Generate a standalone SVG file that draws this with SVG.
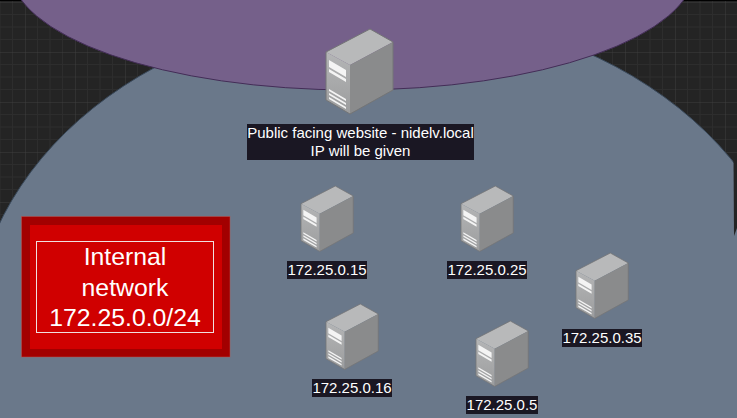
<svg xmlns="http://www.w3.org/2000/svg" width="737" height="418" viewBox="0 0 737 418">
<style>
text{font-family:"Liberation Sans",Arial,sans-serif;fill:#fff;text-anchor:middle}
.lbl{font-size:15px}
.big{font-size:24.800px}
.lb{fill:#1a1723}
.t{fill:#b8b9ba}.s{fill:#8a8b8c}.f{fill:url(#fr)}.e{fill:none;stroke:#747576;stroke-width:1;stroke-linejoin:round}.w{fill:#f4f4f4}
</style>
<defs>
<linearGradient id="fr" x1="0" y1="0" x2="0" y2="1"><stop offset="0" stop-color="#b4b5b6"/><stop offset="1" stop-color="#9c9d9e"/></linearGradient>
<pattern id="g" width="50" height="50" patternUnits="userSpaceOnUse" x="25" y="2">
<path d="M12.500 0V50M25 0V50M37.500 0V50M0 12.500H50M0 25H50M0 37.500H50" stroke="#2d2d2d" fill="none"/>
<path d="M0 0V50M0 0H50" stroke="#3e3e3e" fill="none"/>
</pattern>
<g id="srv">
<path class="t" d="M0 23 L44 0 L67 13 L24 36Z"/>
<path class="f" d="M0 23 L24 36 V85 L0 71Z"/>
<path class="s" d="M24 36 L67 13 V61 L24 85Z"/>
<path class="w" d="M3 31 L20 41 V48 L3 38Z M3 40 L20 50 V53 L3 43Z M3 60 L20 70 V72 L3 62Z M3 64 L20 74 V76 L3 66Z M3 68 L20 78 V80 L3 70Z"/>
<path class="e" d="M0 23 L44 0 L67 13 V61 L24 85 L0 71Z"/>
</g>
</defs>
<rect width="737" height="418" fill="#242424"/>
<rect width="737" height="418" fill="url(#g)"/>
<rect width="737" height="1" fill="#000"/>
<ellipse cx="386" cy="342" rx="414" ry="331" fill="#6a788a" stroke="#3a4a5c"/>
<path d="M733.500 157L737 160V228L734 236Z" fill="#242424"/>
<ellipse cx="352.500" cy="-30" rx="342" ry="120" fill="#75608a" stroke="#432d57"/>
<g id="connectors"/>
<g id="website">
<use href="#srv" transform="translate(326 29)"/>
<rect class="lb" x="247" y="124" width="227" height="36"/>
<text class="lbl" x="360.500" y="138">Public facing website - nidelv.local</text>
<text class="lbl" x="360.500" y="156">IP will be given</text>
</g>
<g id="host15">
<use href="#srv" transform="translate(301 186) scale(.78 .77)"/>
<rect class="lb" x="287" y="261" width="80" height="18"/>
<text class="lbl" x="327" y="275">172.25.0.15</text>
</g>
<g id="host25">
<use href="#srv" transform="translate(461 186) scale(.78 .77)"/>
<rect class="lb" x="447" y="261" width="80" height="18"/>
<text class="lbl" x="487" y="275">172.25.0.25</text>
</g>
<g id="host35">
<use href="#srv" transform="translate(576 253) scale(.78 .77)"/>
<rect class="lb" x="562" y="329" width="80" height="18"/>
<text class="lbl" x="602" y="343">172.25.0.35</text>
</g>
<g id="host16">
<use href="#srv" transform="translate(326 304) scale(.78 .77)"/>
<rect class="lb" x="312" y="379" width="80" height="18"/>
<text class="lbl" x="352" y="393">172.25.0.16</text>
</g>
<g id="host5">
<use href="#srv" transform="translate(476 321) scale(.78 .77)"/>
<rect class="lb" x="466" y="396" width="72" height="18"/>
<text class="lbl" x="502" y="410">172.25.0.5</text>
</g>
<g id="legend">
<rect x="21.500" y="216.500" width="208.500" height="140.500" fill="#a20000" stroke="#b85450" stroke-width=".5"/>
<rect x="30" y="225" width="192" height="124" fill="#d00000"/>
<rect x="36.500" y="241.500" width="177" height="91" fill="none" stroke="#f0e0e0"/>
<text class="big" x="125" y="265">Internal</text>
<text class="big" x="125" y="296">network</text>
<text class="big" x="125" y="326">172.25.0.0/24</text>
</g>
</svg>
